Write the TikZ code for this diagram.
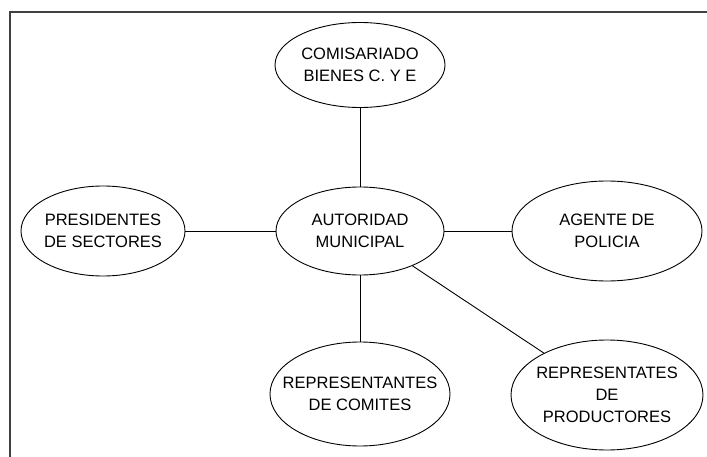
\documentclass[tikz,border=0pt]{standalone}
\usepackage{fontspec}
\setmainfont{Liberation Sans}
\usetikzlibrary{shapes.geometric}
\begin{document}
\begin{tikzpicture}[x=1pt,y=-1pt,
  oval/.style={ellipse,draw=black,line width=0.9pt,inner sep=0pt},
  txt/.style={align=center,inner sep=0pt,font=\fontsize{16.5}{22}\selectfont},
  link/.style={draw=black,line width=0.9pt},
  frame/.style={draw=black!75,line width=2pt}]
\useasboundingbox (0,0) rectangle (707,457);
\draw[frame] (10,457) -- (10,12) -- (707,12);
\node[oval,minimum width=170pt,minimum height=85pt,
  label={[txt]center:{COMISARIADO\\BIENES C. Y E}}] (com) at (360,65) {};
\node[oval,minimum width=168pt,minimum height=88pt,
  label={[txt]center:{AUTORIDAD\\MUNICIPAL}}] (aut) at (360,231) {};
\node[oval,minimum width=164pt,minimum height=90pt,
  label={[txt]center:{PRESIDENTES\\DE SECTORES}}] (pre) at (103,231) {};
\node[oval,minimum width=190pt,minimum height=100pt,
  label={[txt]center:{AGENTE DE\\POLICIA}}] (age) at (607,231) {};
\node[oval,minimum width=180pt,minimum height=104pt,
  label={[txt]center:{REPRESENTANTES\\DE COMITES}}] (cmt) at (360,394) {};
\node[oval,minimum width=192pt,minimum height=110pt,
  label={[txt]center:{REPRESENTATES\\DE\\PRODUCTORES}}] (pro) at (607,395) {};
\draw[link] (com) -- (aut);
\draw[link] (pre) -- (aut);
\draw[link] (aut) -- (age);
\draw[link] (aut) -- (cmt);
\draw[link] (aut) -- (pro);
\end{tikzpicture}
\end{document}
